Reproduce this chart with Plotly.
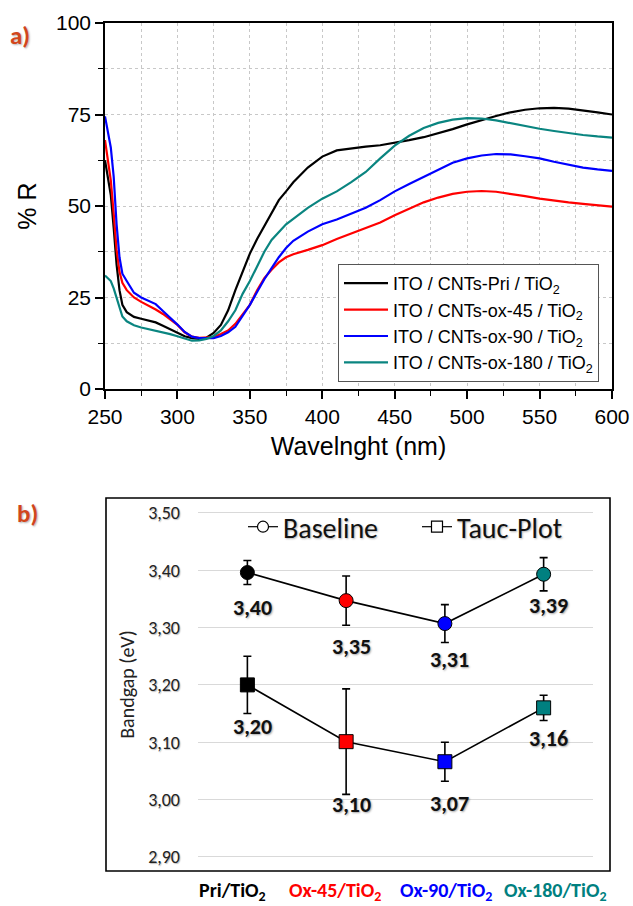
import plotly.graph_objects as go

# ---------------- Panel a data ----------------
wavelength = [250, 252, 254, 256, 258, 260, 262, 265, 270, 275, 280, 285, 290, 295, 300,
              305, 310, 315, 320, 325, 330, 335, 340, 345, 350, 355, 360, 365, 370, 375,
              380, 390, 400, 410, 420, 430, 440, 450, 460, 470, 480, 490, 500, 510, 520,
              530, 540, 550, 560, 570, 580, 590, 600]

r_pri = [62.5, 58, 53, 44, 34, 27, 23, 21, 19.7, 19.2, 18.7, 18.2, 17.3, 16.3, 15.3,
         14.4, 13.9, 13.7, 14.0, 15.3, 17.5, 21.5, 27, 32, 37, 41, 44.5, 48, 51.6, 54,
         56.5, 60.5, 63.5, 65.2, 65.8, 66.2, 66.6, 67.2, 68, 68.8, 69.8, 71, 72.3, 73.5, 74.6,
         75.6, 76.3, 76.7, 76.8, 76.6, 76.2, 75.6, 75.0]

r_ox45 = [68, 63, 57, 48, 38, 32, 29, 27, 25, 23.8, 22.8, 21.7, 20.5, 19, 17.5,
          15.5, 14.3, 14.0, 14.0, 14.2, 15, 16, 17.8, 20.5, 23, 27, 30.3, 32.6, 34.6, 36,
          36.8, 38, 39.3, 41, 42.5, 44, 45.5, 47.5, 49.3, 51, 52.3, 53.3, 53.9, 54.1, 53.9,
          53.4, 52.7, 52, 51.4, 51, 50.6, 50.2, 49.8]

r_ox90 = [74.5, 70, 66, 58, 45, 36, 31.5, 29.5, 26.3, 25, 24.2, 23.2, 21.3, 19.5, 17.6,
          15.6, 14.3, 13.9, 13.8, 13.9, 14.5, 15.5, 17, 20, 23, 26.5, 30, 33, 36, 38.5,
          40.5, 43, 45, 46.3, 47.8, 49.5, 51.6, 54, 56, 58, 60, 61.8, 63, 63.8, 64.2,
          64.1, 63.6, 63, 62.1, 61.2, 60.5, 60, 59.6]

r_ox180 = [31, 30.2, 29.5, 27.5, 25, 22, 19.8, 18.5, 17.4, 16.8, 16.4, 16, 15.5, 15, 14.4,
           13.8, 13.2, 13.3, 13.7, 14.5, 16, 18.5, 21.5, 26, 29.5, 33.5, 37.5, 40.7, 43, 45,
           46.5, 49.5, 52, 54, 56.5, 59.3, 63, 66.5, 69.2, 71.3, 72.7, 73.6, 74, 73.9, 73.4,
           72.6, 71.8, 71.1, 70.5, 69.9, 69.4, 69, 68.7]

series_names = ["ITO / CNTs-Pri / TiO<sub>2</sub>", "ITO / CNTs-ox-45 / TiO<sub>2</sub>",
                "ITO / CNTs-ox-90 / TiO<sub>2</sub>", "ITO / CNTs-ox-180 / TiO<sub>2</sub>"]
series_colors = ["#000000", "#ff0000", "#0000ff", "#0a8580"]

# ---------------- Panel b data ----------------
categories = ["Pri/TiO2", "Ox-45/TiO2", "Ox-90/TiO2", "Ox-180/TiO2"]
cat_text = ["Pri/TiO<sub>2</sub>", "Ox-45/TiO<sub>2</sub>", "Ox-90/TiO<sub>2</sub>", "Ox-180/TiO<sub>2</sub>"]
point_colors = ["#000000", "#ff0000", "#0000ff", "#008080"]

baseline = [3.396, 3.347, 3.307, 3.393]
baseline_err = [0.021, 0.043, 0.033, 0.029]
baseline_labels = ["3,40", "3,35", "3,31", "3,39"]

tauc = [3.200, 3.101, 3.066, 3.160]
tauc_err = [0.050, 0.092, 0.034, 0.022]
tauc_labels = ["3,20", "3,10", "3,07", "3,16"]

W, H = 633, 906
def px(x):
    return x / W
def py(y):
    return 1 - y / H

fig = go.Figure()

ARIAL = "Liberation Sans, Arial, sans-serif"
CAL = "Carlito, Lato, sans-serif"

for i, (vals, name, col) in enumerate(zip([r_pri, r_ox45, r_ox90, r_ox180], series_names, series_colors)):
    fig.add_trace(go.Scatter(x=wavelength, y=vals, mode="lines", name=name,
                             line=dict(color=col, width=2.2), legendgroup=str(i),
                             xaxis="x", yaxis="y", legend="legend"))

# Panel b traces
shadow = "1px 1px 2px rgba(0,0,0,0.35)"
for vals, errs, sym, name in [(baseline, baseline_err, "circle", "Baseline"),
                              (tauc, tauc_err, "square", "Tauc-Plot")]:
    fig.add_trace(go.Scatter(
        x=categories, y=vals, mode="lines+markers", showlegend=False,
        line=dict(color="black", width=1.6),
        marker=dict(symbol=sym, size=14, color=point_colors, line=dict(color="black", width=1)),
        error_y=dict(type="data", array=errs, visible=True, color="black", thickness=1.6, width=4),
        xaxis="x2", yaxis="y2"))
    fig.add_trace(go.Scatter(
        x=[None], y=[None], mode="lines+markers", name=name,
        line=dict(color="black", width=1.2),
        marker=dict(symbol=sym, size=11, color="white", line=dict(color="black", width=1.2)),
        xaxis="x2", yaxis="y2", legend="legend2"))

# value labels (pixel offsets below the error-bar ends)
base_off = [23, 21, 17, 15]
tauc_off = [13, 10, 22, 18]
for vals, errs, labs, offs in [(baseline, baseline_err, baseline_labels, base_off),
                               (tauc, tauc_err, tauc_labels, tauc_off)]:
    for c, v, e, lab, o in zip(categories, vals, errs, labs, offs):
        fig.add_annotation(x=c, y=v - e, xref="x2", yref="y2", text="<b>" + lab + "</b>",
                           showarrow=False, yanchor="middle", xanchor="center", yshift=-o, xshift=5,
                           font=dict(family=CAL, size=22, color="#111", shadow=shadow))

# category labels under the frame
cat_shift = [-15, -11, 1, 12]
for c, t, col, s in zip(categories, cat_text, point_colors, cat_shift):
    fig.add_annotation(x=c, y=py(891), xref="x2", yref="paper", text="<b>" + t + "</b>",
                       showarrow=False, xanchor="center", yanchor="middle", xshift=s,
                       font=dict(family=CAL, size=20, color=col))

# panel labels
fig.add_annotation(x=px(20), y=py(36), xref="paper", yref="paper", text="<b>a)</b>", showarrow=False,
                   xanchor="center", yanchor="middle",
                   font=dict(family=CAL, size=25, color="#d2461c", shadow="1px 1px 2px rgba(0,0,0,0.3)"))
fig.add_annotation(x=px(27), y=py(513), xref="paper", yref="paper", text="<b>b)</b>", showarrow=False,
                   xanchor="center", yanchor="middle",
                   font=dict(family=CAL, size=25, color="#d2461c", shadow="1px 1px 2px rgba(0,0,0,0.3)"))

# panel b frame
fig.add_shape(type="rect", xref="paper", yref="paper", x0=px(106), x1=px(610), y0=py(871), y1=py(498),
              line=dict(color="black", width=1.6))

grid_a = dict(showgrid=True, gridcolor="#c8c8c8", griddash="dot", gridwidth=1)

fig.update_layout(
    width=W, height=H, autosize=False,
    margin=dict(l=0, r=0, t=0, b=0),
    paper_bgcolor="white", plot_bgcolor="white",
    separators=",.",
    showlegend=True,
    xaxis=dict(domain=[px(105), px(612)], anchor="y", range=[250, 600], dtick=50, tick0=250,
               showline=True, linecolor="black", linewidth=1.6, mirror=True,
               ticks="outside", ticklen=8, tickwidth=1.5, tickcolor="black",
               minor=dict(dtick=25, ticks="outside", ticklen=5, tickwidth=1.3, tickcolor="black",
                          showgrid=True, gridcolor="#c8c8c8", griddash="dot"),
               tickfont=dict(family=ARIAL, size=21, color="black"),
               title=dict(text="Wavelnght (nm)", font=dict(family=ARIAL, size=25, color="black"), standoff=10),
               zeroline=False, automargin=False, **grid_a),
    yaxis=dict(domain=[py(389), py(23)], anchor="x", range=[0, 100], dtick=25,
               showline=True, linecolor="black", linewidth=1.6, mirror=True,
               ticks="outside", ticklen=8, tickwidth=1.5, tickcolor="black",
               minor=dict(dtick=12.5, ticks="outside", ticklen=5, tickwidth=1.3, tickcolor="black",
                          showgrid=True, gridcolor="#c8c8c8", griddash="dot"),
               tickfont=dict(family=ARIAL, size=21, color="black"),
               title=dict(text="% R", font=dict(family=ARIAL, size=25, color="black"), standoff=12),
               zeroline=False, automargin=False, **grid_a),
    xaxis2=dict(domain=[px(198), px(593)], anchor="y2", range=[-0.5, 3.5],
                showticklabels=False,
                showgrid=False, showline=False, zeroline=False, ticks="", automargin=False),
    yaxis2=dict(domain=[py(871), py(498)], anchor="x2", range=[2.8754, 3.526], dtick=0.1, tick0=2.9,
                tickformat=".2f", showgrid=True, gridcolor="#d9d9d9", gridwidth=1.2,
                showline=False, zeroline=False, ticks="", ticklabelstandoff=17,
                tickfont=dict(family=CAL, size=18, color="#222", shadow="1px 1px 1px rgba(0,0,0,0.25)"),
                title=dict(text="Bandgap (eV)", font=dict(family=CAL, size=20, color="#222"), standoff=8),
                automargin=False),
    legend=dict(x=px(338), y=py(264), xanchor="left", yanchor="top",
                bgcolor="white", bordercolor="#555", borderwidth=1,
                font=dict(family=ARIAL, size=18, color="black"), tracegroupgap=0,
                itemwidth=44),
    legend2=dict(x=px(243), y=py(527), xanchor="left", yanchor="middle", orientation="h",
                 bgcolor="rgba(0,0,0,0)", font=dict(family=CAL, size=28, color="#111",
                                                    shadow="1px 1px 2px rgba(0,0,0,0.3)"),
                 itemwidth=30, entrywidth=129, entrywidthmode="pixels"),
)

fig.write_html("out.html")
